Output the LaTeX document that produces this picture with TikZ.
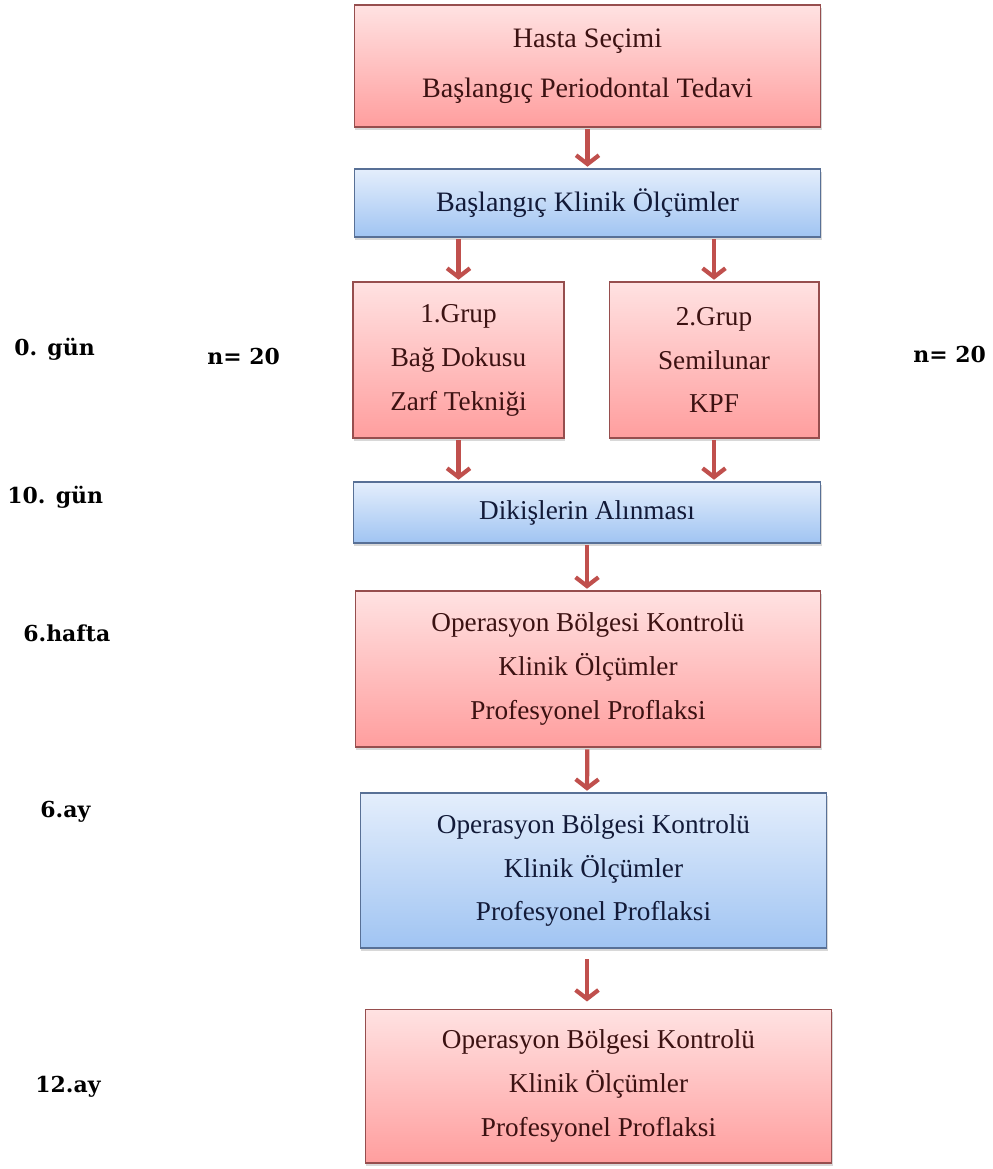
\documentclass[tikz,border=0pt]{standalone}
\usepackage{fontspec}
\setmainfont{Liberation Serif}
\newfontfamily\notefont{DejaVu Serif}
\usepackage{tikz}
\usetikzlibrary{arrows.meta,shadows}
\definecolor{pinktop}{RGB}{255,226,226}
\definecolor{pinkbottom}{RGB}{255,158,158}
\definecolor{pinkline}{RGB}{150,78,78}
\definecolor{pinktext}{RGB}{60,18,18}
\definecolor{bluetop}{RGB}{228,238,252}
\definecolor{bluebottom}{RGB}{160,196,242}
\definecolor{blueline}{RGB}{88,112,150}
\definecolor{bluetext}{RGB}{18,26,56}
\definecolor{arrowred}{RGB}{192,80,77}
\tikzstyle{flow box}=[draw, line width=0.6pt, rectangle, align=center, inner sep=0pt, font=\fontsize{15.5}{25}\selectfont, drop shadow={opacity=0.3, shadow xshift=0.6pt, shadow yshift=-1.5pt}]
\tikzstyle{pink box}=[flow box, draw=pinkline, top color=pinktop, bottom color=pinkbottom, text=pinktext]
\tikzstyle{blue box}=[flow box, draw=blueline, top color=bluetop, bottom color=bluebottom, text=bluetext]
\tikzstyle{arrow edge}=[draw=arrowred, line width=2.4pt, -{Straight Barb[length=5pt,width=13pt]}, shorten <=1pt, shorten >=1pt]
\tikzstyle{time note}=[anchor=base west, inner sep=0pt, font=\notefont\bfseries\fontsize{12.5}{15}\selectfont]

\begin{document}
\begin{tikzpicture}[x=0.02cm, y=-0.02cm]
	\useasboundingbox[fill=white] (0,0) rectangle (992,1169);
	% First we draw the boxes
	\node[pink box, font=\fontsize{16}{28.5}\selectfont, minimum width=9.34cm, minimum height=2.44cm] (start) at (587.5,66) {Hasta Seçimi\\Başlangıç Periodontal Tedavi};
	\node[blue box, font=\fontsize{16}{28}\selectfont, minimum width=9.34cm, minimum height=1.36cm] (baseline) at (587.5,203) {Başlangıç Klinik Ölçümler};
	\node[pink box, minimum width=4.22cm, minimum height=3.12cm] (group1) at (458.5,360) {1.Grup\\Bağ Dokusu\\Zarf Tekniği};
	\node[pink box, minimum width=4.2cm, minimum height=3.12cm] (group2) at (714,360) {2.Grup\\Semilunar\\KPF};
	\node[blue box, minimum width=9.36cm, minimum height=1.22cm] (sutures) at (587,512.5) {Dikişlerin Alınması};
	\node[pink box, minimum width=9.32cm, minimum height=3.12cm] (week6) at (588,669) {Operasyon Bölgesi Kontrolü\\Klinik Ölçümler\\Profesyonel Proflaksi};
	\node[blue box, minimum width=9.34cm, minimum height=3.1cm] (month6) at (593.5,870.5) {Operasyon Bölgesi Kontrolü\\Klinik Ölçümler\\Profesyonel Proflaksi};
	\node[pink box, minimum width=9.34cm, minimum height=3.08cm] (month12) at (598.5,1086) {Operasyon Bölgesi Kontrolü\\Klinik Ölçümler\\Profesyonel Proflaksi};

	% Time points and group sizes
	\foreach \pos/\label/\name in {
		{(14,355)/day0/0. gün},
		{(207,364)/n1/n= 20},
		{(913,362)/n2/n= 20},
		{(7,503)/day10/10. gün},
		{(23,641)/week/6.hafta},
		{(40,817)/month/6.ay},
		{(35,1092)/year/12.ay}}
	\node[time note] (\label) at \pos {\name};

	% Connect boxes with arrows
	\path[arrow edge] (start) -- (baseline);
	\path[arrow edge] (group1.north |- baseline.south) -- (group1);
	\path[arrow edge] (group2.north |- baseline.south) -- (group2);
	\path[arrow edge] (group1) -- (group1.south |- sutures.north);
	\path[arrow edge] (group2) -- (group2.south |- sutures.north);
	\path[arrow edge] (sutures) -- (sutures.south |- week6.north);
	\path[arrow edge] (week6) -- (sutures.south |- month6.north);
	\path[arrow edge, shorten <=6pt, shorten >=4pt] (sutures.south |- month6.south) -- (sutures.south |- month12.north);
\end{tikzpicture}
\end{document}
